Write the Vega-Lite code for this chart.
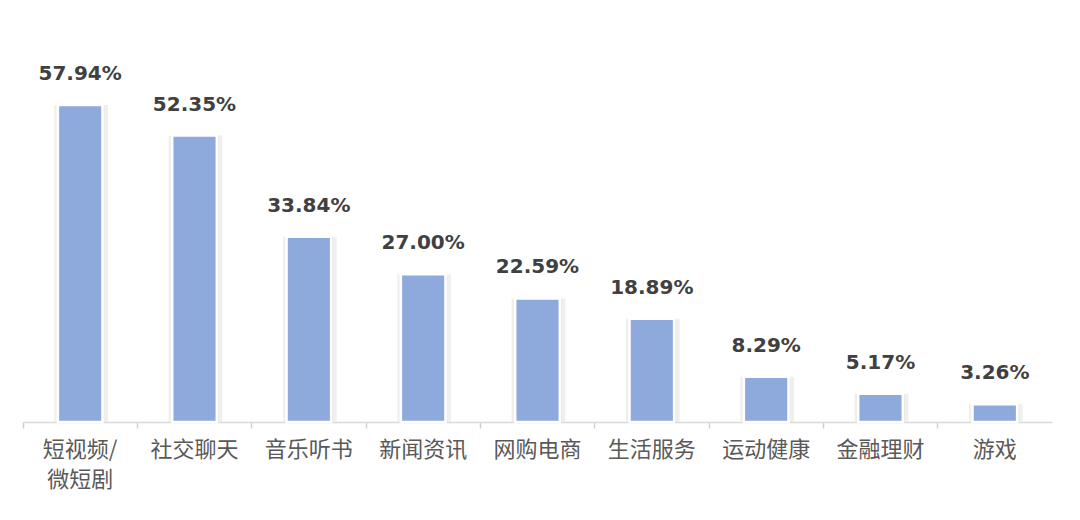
{
  "$schema": "https://vega.github.io/schema/vega-lite/v6.json",
  "width": 1029,
  "height": 383,
  "autosize": {"type": "none"},
  "padding": {"left": 23, "top": 39, "right": 28, "bottom": 98},
  "background": "white",
  "data": {
    "values": [
      {"category": "短视频/微短剧", "value": 0.5794},
      {"category": "社交聊天", "value": 0.5235},
      {"category": "音乐听书", "value": 0.3384},
      {"category": "新闻资讯", "value": 0.2700},
      {"category": "网购电商", "value": 0.2259},
      {"category": "生活服务", "value": 0.1889},
      {"category": "运动健康", "value": 0.0829},
      {"category": "金融理财", "value": 0.0517},
      {"category": "游戏", "value": 0.0326}
    ]
  },
  "encoding": {
    "x": {
      "field": "category",
      "type": "nominal",
      "sort": null,
      "scale": {"paddingInner": 0, "paddingOuter": 0},
      "axis": {
        "title": null,
        "labelAngle": 0,
        "labelFont": "Noto Sans CJK SC",
        "labelFontSize": 22,
        "labelColor": "#595959",
        "labelPadding": 11,
        "labelLineHeight": 30,
        "labelBaseline": "top",
        "labelExpr": "datum.label == '短视频/微短剧' ? ['短视频/', '微短剧'] : datum.label",
        "domainColor": "#d9d9d9",
        "domainWidth": 1.5,
        "tickColor": "#d0d0d0",
        "tickWidth": 1.5,
        "tickSize": 6,
        "bandPosition": 0
      }
    },
    "y": {
      "field": "value",
      "type": "quantitative",
      "scale": {"domain": [0, 0.7]},
      "axis": null
    }
  },
  "layer": [
    {
      "mark": {"type": "bar", "width": {"band": 0.47}, "color": "#efefef", "xOffset": 1},
      "encoding": {}
    },
    {
      "mark": {"type": "bar", "width": {"band": 0.4}, "color": "#e2e2e2", "xOffset": 1},
      "encoding": {}
    },
    {
      "mark": {"type": "bar", "width": {"band": 0.39}, "color": "#8EA9DB", "stroke": "white", "strokeWidth": 2.5},
      "encoding": {}
    },
    {
      "mark": {"type": "text", "baseline": "middle", "dy": -31, "font": "DejaVu Sans", "fontWeight": "bold", "fontSize": 20, "color": "#404040"},
      "encoding": {
        "text": {"field": "value", "type": "quantitative", "format": ".2%"}
      }
    }
  ],
  "config": {"view": {"stroke": null}}
}
